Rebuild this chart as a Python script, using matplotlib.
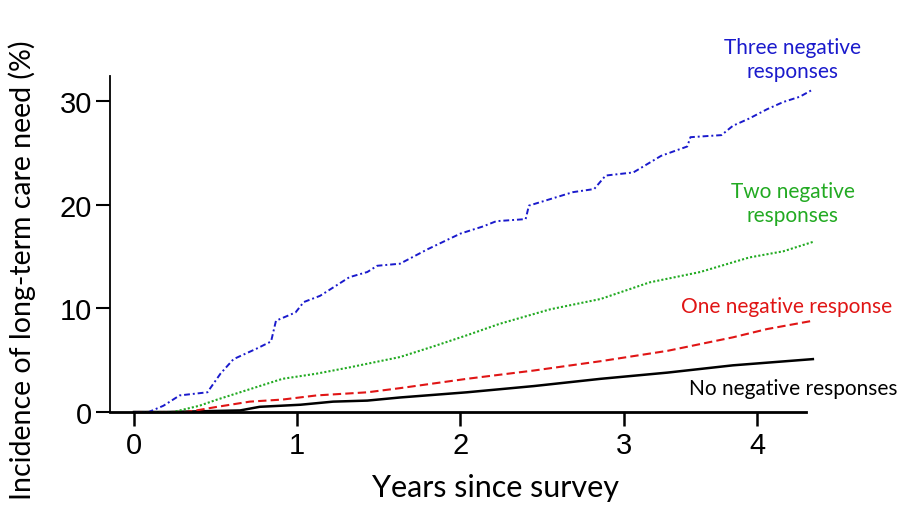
import matplotlib
matplotlib.use("Agg")
import matplotlib.pyplot as plt
import numpy as np

# cumulative incidence (%), years since survey
three_x = [0.00, 0.09, 0.18, 0.28, 0.45, 0.53, 0.61, 0.75, 0.84, 0.87, 0.99, 1.04,
           1.14, 1.22, 1.32, 1.43, 1.49, 1.63, 1.80, 2.00, 2.14, 2.22, 2.40, 2.42,
           2.69, 2.82, 2.89, 3.06, 3.23, 3.39, 3.41, 3.60, 3.67, 3.77, 3.88, 3.98, 4.08, 4.16]
three_y = [0.0, 0.0, 0.6, 1.6, 1.9, 3.7, 5.1, 6.1, 6.8, 8.8, 9.6, 10.6,
           11.2, 12.0, 13.0, 13.5, 14.1, 14.3, 15.7, 17.2, 17.9, 18.4, 18.6, 19.9,
           21.2, 21.5, 22.8, 23.1, 24.7, 25.6, 26.5, 26.7, 27.6, 28.3, 29.2, 29.9, 30.4, 31.1]

two_x = [0.00, 0.24, 0.40, 0.51, 0.71, 0.91, 1.12, 1.32, 1.63, 1.83, 2.04,
         2.24, 2.55, 2.86, 3.16, 3.47, 3.77, 3.98, 4.16]
two_y = [0.0, 0.0, 0.6, 1.2, 2.2, 3.2, 3.7, 4.3, 5.3, 6.3, 7.4,
         8.5, 9.9, 10.9, 12.5, 13.5, 14.9, 15.5, 16.4]

one_x = [0.00, 0.32, 0.40, 0.51, 0.71, 0.91, 1.12, 1.43, 1.63, 2.04, 2.45,
         2.86, 3.27, 3.67, 3.88, 4.16]
one_y = [0.0, 0.0, 0.2, 0.5, 1.0, 1.2, 1.6, 1.9, 2.3, 3.2, 4.0,
         4.9, 5.9, 7.2, 8.0, 8.8]

none_x = [0.00, 0.20, 0.65, 0.77, 1.02, 1.22, 1.43, 1.63, 2.04, 2.45, 2.86,
          3.27, 3.67, 4.16]
none_y = [0.0, 0.0, 0.15, 0.5, 0.7, 1.0, 1.1, 1.4, 1.9, 2.5, 3.2,
          3.8, 4.5, 5.1]

xtick_pos = [0, 1, 2, 3, 3.82]
xtick_labels = ["0", "1", "2", "3", "4"]
ytick_pos = [0, 10, 20, 30]

blue = "#1a1acc"
green = "#22aa22"
red = "#e01515"

fig = plt.figure(figsize=(8.98, 5.06), dpi=100)
ax = fig.add_axes([110 / 898, 1 - 413 / 506, 696 / 898, 336 / 506])

ax.plot(none_x, none_y, color="black", lw=1.8, ls="-", clip_on=False)
ax.plot(one_x, one_y, color=red, lw=1.5, ls=(0, (4, 2)), clip_on=False)
ax.plot(two_x, two_y, color=green, lw=1.5, ls=(0, (1, 1)), clip_on=False)
ax.plot(three_x, three_y, color=blue, lw=1.4, ls=(0, (3, 1.5, 1, 1.5)), clip_on=False)

ax.set_xlim(-0.147, 4.118)
ax.set_ylim(0, 32.4)

for s in ["top", "right"]:
    ax.spines[s].set_visible(False)
ax.spines["left"].set_linewidth(1.3)
ax.spines["bottom"].set_linewidth(2.0)

num_font = ["Liberation Sans Narrow", "Liberation Sans", "DejaVu Sans"]
ax.set_xticks(xtick_pos)
ax.set_xticklabels(xtick_labels, fontsize=21, family=num_font)
ax.set_yticks(ytick_pos)
ax.set_yticklabels([str(v) for v in ytick_pos], fontsize=21, family=num_font)
ax.tick_params(axis="x", direction="out", length=10, width=1.8, pad=4)
ax.tick_params(axis="y", direction="out", length=10, width=1.5, pad=3)

lab_font = ["Lato", "DejaVu Sans"]
fig.text(495 / 898, 1 - 488 / 506, "Years since survey", fontsize=22,
         family=lab_font, ha="center", va="center")
fig.text(22 / 898, 1 - 270 / 506, "Incidence of long-term care need (%)", fontsize=20.5,
         family=lab_font, ha="center", va="center", rotation=90)

ann = dict(fontsize=15, family=lab_font, ha="center", va="center", linespacing=1.3)
fig.text(793 / 898, 1 - 60 / 506, "Three negative\nresponses", color=blue, **ann)
fig.text(793 / 898, 1 - 204 / 506, "Two negative\nresponses", color=green, **ann)
fig.text(787 / 898, 1 - 307 / 506, "One negative response", color=red, **ann)
fig.text(793 / 898, 1 - 389 / 506, "No negative responses", color="black", **ann)

fig.savefig("out.png", dpi=100)
